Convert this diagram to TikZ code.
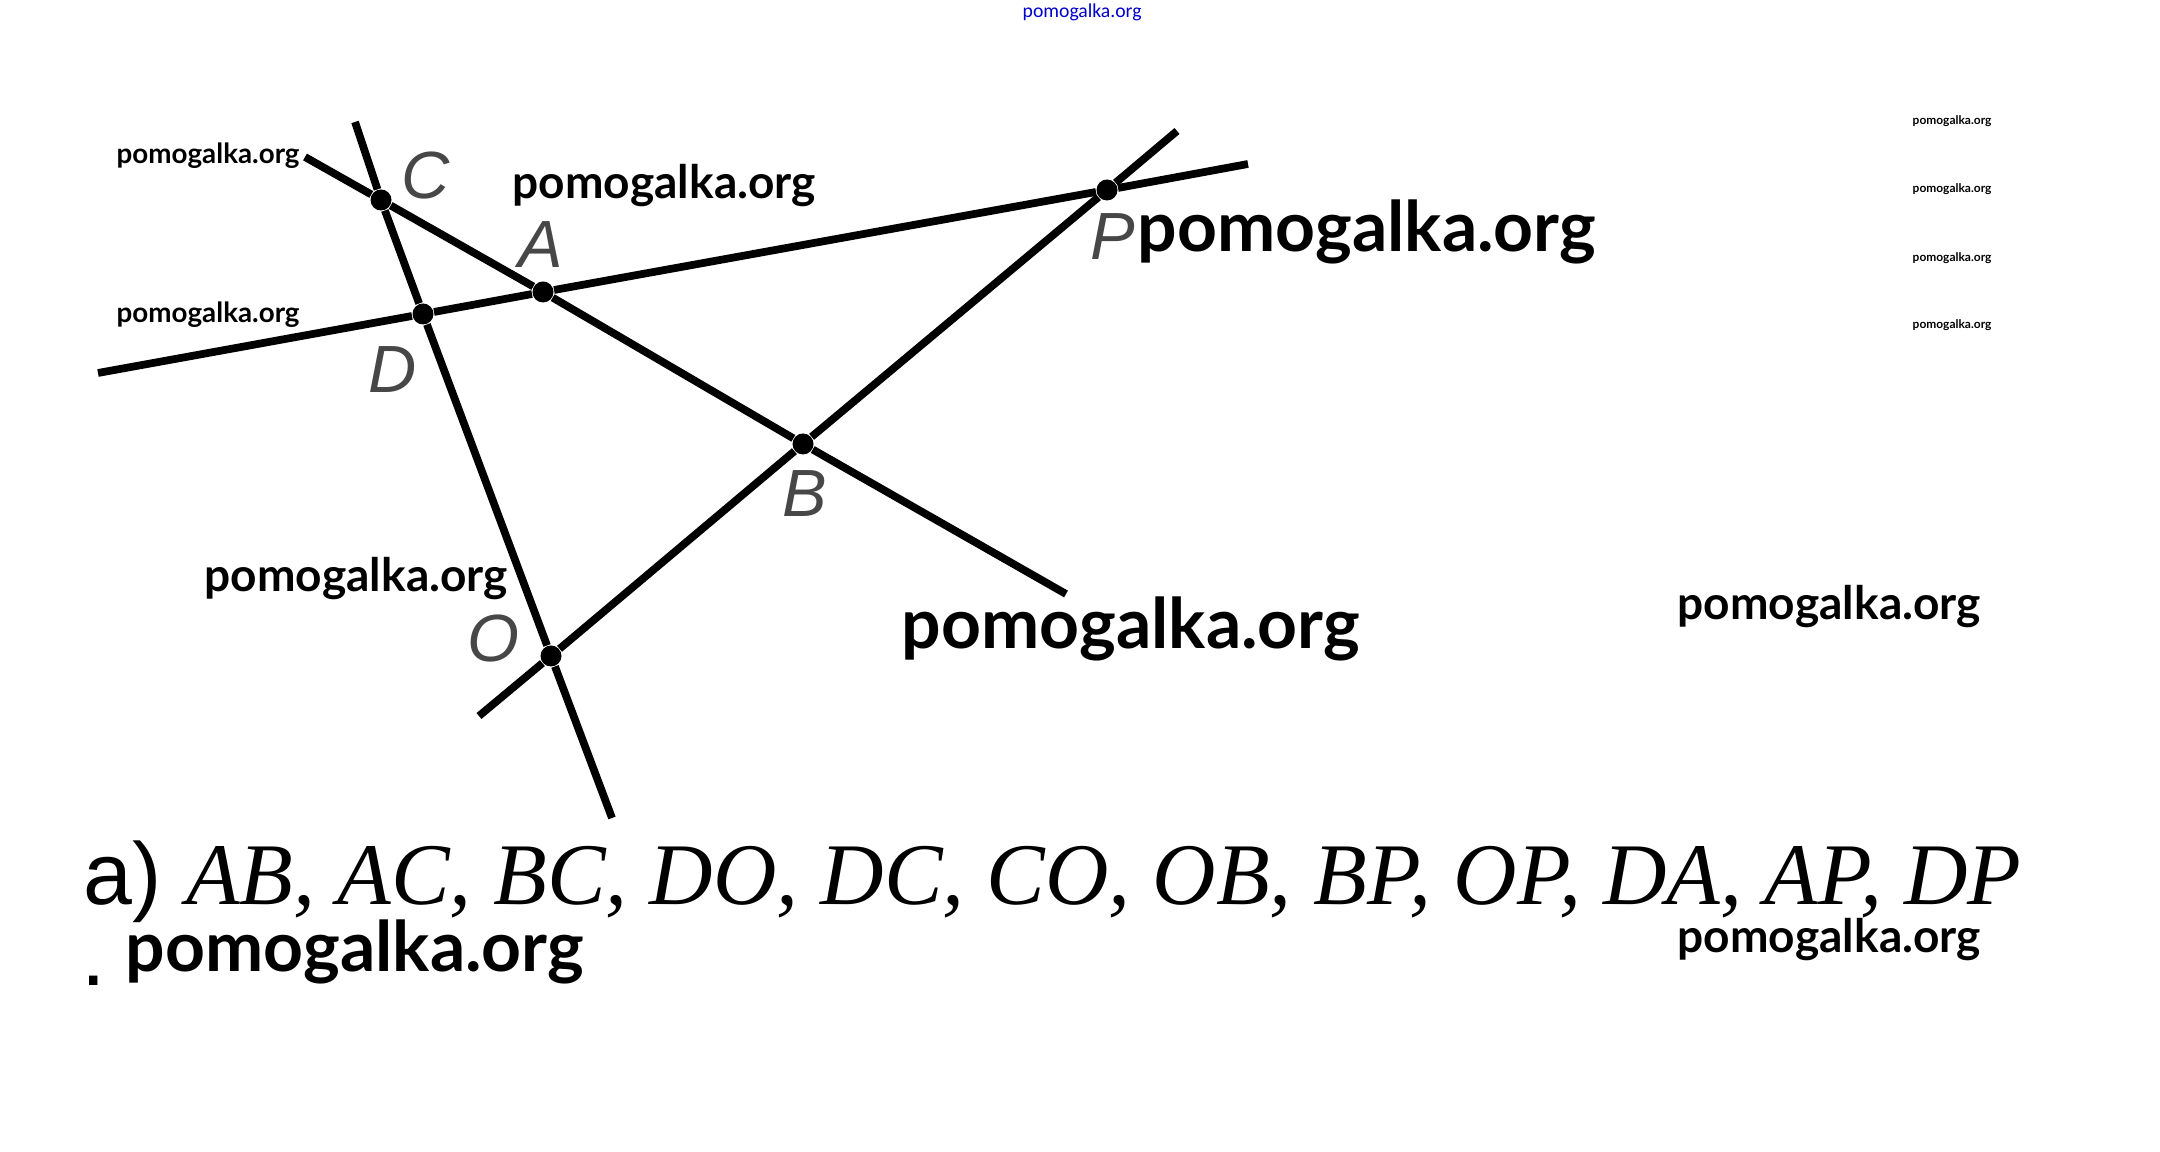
\documentclass[tikz,border=0pt]{standalone}
\usepackage{fontspec}
\setmainfont{Liberation Sans}
\newfontfamily\wmfont{Lato}
\newfontfamily\thinfont{Carlito}
\newfontfamily\tmsfont{Liberation Serif}
\usetikzlibrary{positioning}

\tikzset{
  pt/.style={circle,fill,inner sep=0pt,minimum size=2.1mm},
  ln/.style={line width=2.2pt},
  lab/.style={text=black!72,inner sep=0pt,font=\fontsize{19}{19}\selectfont\itshape},
  wm/.style={anchor=west,inner sep=0pt,font=\wmfont\bfseries\fontsize{#1}{#1}\selectfont},
  wmblue/.style={anchor=west,inner sep=0pt,text=blue!80!black,font=\thinfont\fontsize{#1}{#1}\selectfont},
}

\begin{document}
\begin{tikzpicture}[x=0.1mm,y=-0.1mm]
  \fill[white] (0,0) rectangle (2160,1152);
  \useasboundingbox (0,0) rectangle (2160,1152);

  % points
  \node[pt] (C) at (381,200) {};
  \node[pt] (D) at (423,314) {};
  \node[pt] (A) at (543,292) {};
  \node[pt] (B) at (803,444) {};
  \node[pt] (P) at (1107,190) {};
  \node[pt] (O) at (551,656) {};

  % free ends of the lines
  \coordinate (CO1) at (355,122);
  \coordinate (CO2) at (612,818);
  \coordinate (CB1) at (305,157);
  \coordinate (CB2) at (1066,594);
  \coordinate (DP1) at (98,373);
  \coordinate (DP2) at (1248,164);
  \coordinate (OP1) at (479,716);
  \coordinate (OP2) at (1177,131);

  \draw[ln] (CO1) -- (C) -- (D) -- (O) -- (CO2);
  \draw[ln] (CB1) -- (C) -- (A) -- (B) -- (CB2);
  \draw[ln] (DP1) -- (D) -- (A) -- (P) -- (DP2);
  \draw[ln] (OP1) -- (O) -- (B) -- (P) -- (OP2);

  % letters
  \node[lab] (lC) at ([shift={(45,-24)}]C) {C};
  \node[lab] (lA) at ([shift={(-2,-47)}]A) {A};
  \node[lab] (lD) at ([shift={(-30,56)}]D) {D};
  \node[lab] (lB) at ([shift={(2,50)}]B) {B};
  \node[lab] (lO) at ([shift={(-58,-17)}]O) {O};
  \node[lab] (lP) at ([shift={(6,47)}]P) {P};

  % answer
  \node[anchor=west,inner sep=0pt,font=\fontsize{25}{25}\selectfont] (ans) at (83,882)
    {a) {\tmsfont\itshape AB, AC, BC, DO, DC, CO, OB, BP, OP, DA, AP, DP}};
  \node[inner sep=0pt,font=\fontsize{25}{25}\selectfont] (dot) at (94,981) {.};

  % watermarks
  \node[wmblue=5.6] (w0) at (1022,12) {pomogalka.org};
  \node[wm=7.9] (w1) at (116,156) {pomogalka.org};
  \node[wm=7.9] (w2) at (116,315) {pomogalka.org};
  \node[wm=13.1] (w3) at (512,186) {pomogalka.org};
  \node[wm=19.8] (w4) at (1137,232) {pomogalka.org};
  \foreach \y [count=\i] in {121,189,258,325}
    \node[wm=3.4] (t\i) at (1912,\y) {pomogalka.org};
  \node[wm=13.1] (w5) at (204,579) {pomogalka.org};
  \node[wm=19.8] (w6) at (901,629) {pomogalka.org};
  \node[wm=13.1] (w7) at (1677,607) {pomogalka.org};
  \node[wm=19.8] (w8) at (125,952) {pomogalka.org};
  \node[wm=13.1] (w9) at (1677,940) {pomogalka.org};
\end{tikzpicture}
\end{document}
